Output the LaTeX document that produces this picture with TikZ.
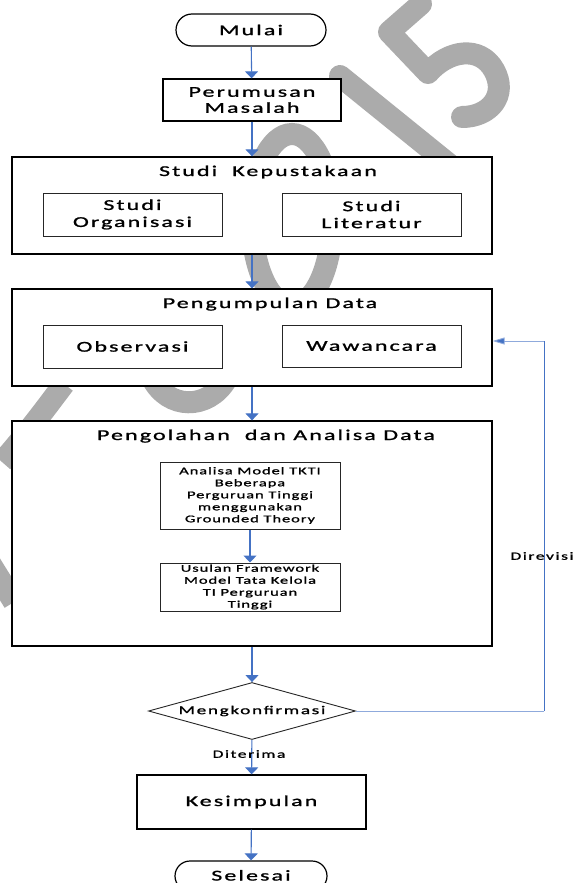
\documentclass[tikz,border=0pt]{standalone}
\usepackage{fontspec}
\setmainfont{Carlito}[FakeStretch=1.6,LetterSpace=14,FakeBold=1.2]
\newfontfamily\smallfont{Carlito}[FakeStretch=1.6,LetterSpace=9,FakeBold=1.2]
\usetikzlibrary{shapes.geometric,shapes.misc,arrows.meta}
\definecolor{arrowblue}{HTML}{4472C4}
\definecolor{lightblue}{HTML}{8FAADC}
\definecolor{wmgray}{HTML}{ABABAB}
\tikzset{
  outerbox/.style={draw=black,line width=1.3pt,fill=white,inner sep=0pt},
  procbox/.style={draw=black,line width=1.3pt,fill=white,inner sep=0pt,align=center,
    font=\fontsize{15}{16}\selectfont},
  innerbox/.style={draw=black!85,line width=1pt,fill=white,inner sep=0pt,align=center,
    font=\fontsize{15}{17}\selectfont},
  smallbox/.style={draw=black!85,line width=1pt,fill=white,inner sep=0pt,align=center,
    font=\smallfont\fontsize{10.3}{12}\selectfont},
  termbox/.style={rounded rectangle,draw=black,line width=1.2pt,fill=white,inner sep=0pt,
    font=\fontsize{15}{17}\selectfont},
  decisionbox/.style={diamond,aspect=3.63,draw=black!85,line width=0.9pt,fill=white,inner sep=0pt,
    font=\fontsize{12}{14}\selectfont},
  titletext/.style={anchor=base,inner sep=0pt,font=\fontsize{15}{17}\selectfont},
  labeltext/.style={inner sep=0pt,font=\fontsize{11}{13}\selectfont},
  flowarrow/.style={draw=arrowblue,line width=1.1pt,-{Triangle[width=13pt,length=7pt]}},
  fbline/.style={draw=lightblue,line width=0.9pt},
  fbvert/.style={draw=arrowblue,line width=1pt},
  fbarrow/.style={draw=lightblue,line width=0.9pt,-{Triangle[width=7pt,length=12pt,fill=arrowblue]}},
  watermark/.style={draw=wmgray,line width=22pt}
}
\begin{document}
\begin{tikzpicture}[x=1pt,y=-1pt]
\useasboundingbox (0,0) rectangle (576,883);
\clip (0,0) rectangle (576,883);
\fill[white] (0,0) rectangle (576,883);

% watermark
\draw[watermark,line cap=round,line join=round] (421,4) -- (389,32) -- (428,73)
  .. controls (448,50) and (480,45) .. (494,70)
  .. controls (508,95) and (490,117) .. (462,117);
\draw[watermark,line cap=round] (340,76) -- (450,165);
\draw[watermark] (292,220) ellipse [x radius=40, y radius=86];
\draw[watermark] (152,378) .. controls (168,410) and (208,410) .. (226,380);
\draw[watermark] (64,384) .. controls (48,405) and (30,430) .. (2,462);
\draw[watermark] (-12,560) -- (14,602);

% nodes
\node[termbox,minimum width=150pt,minimum height=32pt] (mulai) at (251,30) {Mulai};
\node[procbox,minimum width=178pt,minimum height=42pt] (perumusan) at (252,100) {Perumusan\\Masalah};

\node[outerbox,minimum width=480pt,minimum height=97pt] (studikep) at (252,205.5) {};
\node[titletext] (studikeptitle) at (268,176) {Studi\ \ Kepustakaan};
\node[innerbox,minimum width=179pt,minimum height=43pt] (studiorg) at (132.5,214.5) {Studi\\Organisasi};
\node[innerbox,minimum width=179pt,minimum height=43pt] (studilit) at (371.5,214.5) {Studi\\Literatur};

\node[outerbox,minimum width=480pt,minimum height=97pt] (pengumpulan) at (252,337.5) {};
\node[titletext] (pengumpulantitle) at (270,308) {Pengumpulan Data};
\node[innerbox,minimum width=179pt,minimum height=43pt] (observasi) at (132.5,346.5) {Observasi};
\node[innerbox,minimum width=179pt,minimum height=42pt] (wawancara) at (371.5,346) {Wawancara};

\node[outerbox,minimum width=480pt,minimum height=225pt] (pengolahan) at (252,533.5) {};
\node[titletext] (pengolahantitle) at (266,440) {Pengolahan\ \ dan Analisa Data};
\node[smallbox,minimum width=180pt,minimum height=67pt] (analisa) at (250,495.5)
  {Analisa Model TKTI\\Beberapa\\Perguruan Tinggi\\menggunakan\\Grounded Theory};
\node[smallbox,minimum width=180pt,minimum height=48pt] (usulan) at (250,587)
  {Usulan Framework\\Model Tata Kelola\\TI Perguruan\\Tinggi};

\node[decisionbox,minimum width=207pt,minimum height=57pt] (konfirmasi) at (252,711) {Mengkonfirmasi};
\node[procbox,minimum width=229pt,minimum height=54pt] (kesimpulan) at (251.5,802) {Kesimpulan};
\node[termbox,minimum width=152pt,minimum height=30pt] (selesai) at (251,876) {};
\node[titletext] (selesaitext) at (251,880.5) {Selesai};

% connectors
\draw[flowarrow] (mulai) -- (perumusan);
\draw[flowarrow] (perumusan) -- (studikep);
\draw[flowarrow] (studikep) -- (pengumpulan);
\draw[flowarrow] (pengumpulan) -- (pengolahan);
\draw[flowarrow] (analisa) -- (usulan);
\draw[flowarrow] (pengolahan) -- (konfirmasi);
\draw[flowarrow] (konfirmasi) -- (kesimpulan);
\draw[flowarrow] (kesimpulan) -- (selesai);

% feedback loop
\coordinate (fbbottom) at (544,711);
\coordinate (fbtop) at (544,341);
\draw[fbline] (konfirmasi.east) -- (fbbottom);
\draw[fbvert] (fbbottom) -- (fbtop);
\draw[fbarrow] (fbtop) -- (pengumpulan.east |- fbtop);

% labels
\node[labeltext] (diterima) at (249,754) {Diterima};
\node[labeltext] (direvisi) at (542,556) {Direvisi};
\end{tikzpicture}
\end{document}
